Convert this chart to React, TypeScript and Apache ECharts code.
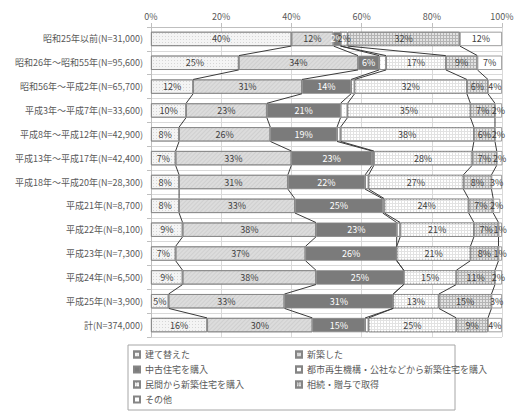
import React, { useEffect, useRef } from "react";
import * as echarts from "echarts";

const categories = [
  "昭和25年以前(N=31,000)",
  "昭和26年～昭和55年(N=95,600)",
  "昭和56年～平成2年(N=65,700)",
  "平成3年～平成7年(N=33,600)",
  "平成8年～平成12年(N=42,900)",
  "平成13年～平成17年(N=42,400)",
  "平成18年～平成20年(N=28,300)",
  "平成21年(N=8,700)",
  "平成22年(N=8,100)",
  "平成23年(N=7,300)",
  "平成24年(N=6,500)",
  "平成25年(N=3,900)",
  "計(N=374,000)",
];

const seriesNames = [
  "建て替えた",
  "新築した",
  "中古住宅を購入",
  "都市再生機構・公社などから新築住宅を購入",
  "民間から新築住宅を購入",
  "相続・贈与で取得",
  "その他",
];

const rebuilt = [40, 25, 12, 10, 8, 7, 8, 8, 9, 7, 9, 5, 16];
const newBuilt = [12, 34, 31, 23, 26, 33, 31, 33, 38, 37, 38, 33, 30];
const usedHouse = [2, 6, 14, 21, 19, 23, 22, 25, 23, 26, 25, 31, 15];
const urPublic = [0, 2, 1, 2, 1, 0.5, 1, 0.5, 1, 0, 0, 0, 1];
const privateNew = [2, 17, 32, 35, 38, 28, 27, 24, 21, 21, 15, 13, 25];
const inherited = [32, 9, 6, 7, 6, 7, 8, 7, 7, 8, 11, 15, 9];
const others = [12, 7, 4, 2, 2, 2, 3, 2, 1, 1, 2, 3, 4];

const xTicks = [0, 20, 40, 60, 80, 100];

const FONT = '"Noto Sans CJK JP", "Noto Sans", sans-serif';

export default function App() {
  const ref = useRef<HTMLDivElement>(null);
  useEffect(() => {
    if (!ref.current) return;
    const chart = echarts.init(ref.current, null, { renderer: "svg" });
    const values = [rebuilt, newBuilt, usedHouse, urPublic, privateNew, inherited, others];

    const styles: any[] = [
      {
        color: "#f4f4f4",
        decal: { symbol: "rect", symbolSize: 1, dashArrayX: [1, 2], dashArrayY: [1, 2], color: "rgba(0,0,0,0.12)" },
      },
      {
        color: "#dcdcdc",
        decal: { symbol: "rect", symbolSize: 1, dashArrayX: [1, 0], dashArrayY: [1, 2], rotation: -Math.PI / 4, color: "rgba(0,0,0,0.06)" },
      },
      { color: "#7b7b7b" },
      {
        color: "#ffffff",
        decal: { symbol: "rect", symbolSize: 1, dashArrayX: [1, 3], dashArrayY: [1, 3], color: "rgba(0,0,0,0.1)" },
      },
      {
        color: "#e2e2e2",
        decal: { symbol: "rect", symbolSize: 1, dashArrayX: [2, 1], dashArrayY: [2, 1], color: "#ffffff" },
      },
      {
        color: "#b4b4b4",
        decal: { symbol: "rect", symbolSize: 1, dashArrayX: [2, 1], dashArrayY: [2, 1], color: "#e2e2e2" },
      },
      { color: "#ffffff" },
    ];

    const barSeries = values.map((arr, k) => ({
      type: "bar",
      name: seriesNames[k],
      stack: "total",
      barCategoryGap: "40%",
      data: arr,
      itemStyle: { ...styles[k], borderColor: "#858585", borderWidth: 0.8 },
      label: {
        show: k !== 3,
        position: "inside",
        formatter: (p: any) => Math.round(p.value) + "%",
        fontSize: 9,
        fontFamily: FONT,
        color: k === 2 ? "#ffffff" : "#404040",
      },
      emphasis: { disabled: true },
    }));

    const lineData: number[][] = [];
    for (let i = 0; i < categories.length - 1; i++) {
      let a = 0;
      let b = 0;
      for (let k = 0; k < values.length - 1; k++) {
        a += values[k][i];
        b += values[k][i + 1];
        lineData.push([i, a, b]);
      }
    }

    const seriesLines = {
      type: "custom",
      name: "seriesLines",
      data: lineData,
      encode: { x: [1, 2], y: 0 },
      z: 5,
      silent: true,
      renderItem: (params: any, api: any) => {
        const row = api.value(0);
        const p1 = api.coord([api.value(1), row]);
        const p2 = api.coord([api.value(2), row + 1]);
        const band = api.size([0, 1])[1];
        const half = band * 0.3;
        return {
          type: "line",
          shape: { x1: p1[0], y1: p1[1] + half, x2: p2[0], y2: p2[1] - half },
          style: { stroke: "#3a3a3a", lineWidth: 1 },
        };
      },
    };

    const legendCommon = {
      orient: "vertical",
      icon: "rect",
      itemWidth: 6,
      itemHeight: 6,
      itemGap: 0,
      padding: 0,
      selectedMode: false,
      textStyle: { fontSize: 9, fontFamily: FONT, color: "#595959", lineHeight: 15 },
    };

    chart.setOption({
      animation: false,
      grid: { left: 151, right: 20, top: 27, bottom: 78 },
      xAxis: {
        type: "value",
        position: "top",
        min: 0,
        max: 100,
        interval: 20,
        axisLabel: {
          formatter: (v: number) => (xTicks.includes(v) ? v + "%" : ""),
          fontSize: 9,
          fontFamily: FONT,
          color: "#595959",
          margin: 6,
        },
        axisLine: { show: true, lineStyle: { color: "#bfbfbf" } },
        axisTick: { show: true, length: 4, lineStyle: { color: "#bfbfbf" } },
        splitLine: { show: true, lineStyle: { color: "#d9d9d9" } },
      },
      yAxis: {
        type: "category",
        inverse: true,
        data: categories,
        axisLabel: { fontSize: 9, fontFamily: FONT, color: "#595959", margin: 8 },
        axisLine: { show: true, lineStyle: { color: "#bfbfbf" } },
        axisTick: { show: true, length: 4, lineStyle: { color: "#bfbfbf" } },
        splitLine: { show: true, lineStyle: { color: "#d9d9d9" } },
      },
      legend: [
        { ...legendCommon, left: 133, top: 347, data: [seriesNames[0], seriesNames[2], seriesNames[4], seriesNames[6]] },
        { ...legendCommon, left: 295, top: 347, data: [seriesNames[1], seriesNames[3], seriesNames[5]] },
      ],
      graphic: [
        {
          type: "rect",
          shape: { x: 128, y: 345, width: 327, height: 65 },
          style: { fill: "none", stroke: "#a6a6a6", lineWidth: 1 },
          silent: true,
        },
      ],
      series: [...barSeries, seriesLines],
    });
    return () => chart.dispose();
  }, []);
  return <div ref={ref} style={{ width: 522, height: 415, position: "absolute", left: 0, top: 0 }} />;
}
